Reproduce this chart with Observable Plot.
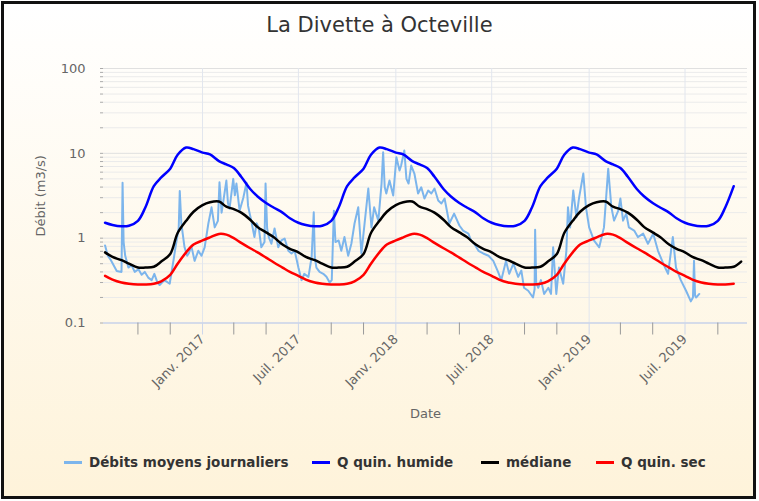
<!DOCTYPE html>
<html><head><meta charset="utf-8">
<script src="https://cdn.jsdelivr.net/npm/d3@7"></script>
<script src="https://cdn.jsdelivr.net/npm/@observablehq/plot@0.6"></script>
<style>
html,body{margin:0;padding:0;background:#fff;}
#frame{position:absolute;left:1px;top:1px;width:755px;height:498px;box-sizing:border-box;border:3px solid #111;background:linear-gradient(#ffffff,#fef3da);}
#title{position:absolute;left:0;top:0;width:759px;height:48px;font:21px "DejaVu Sans";line-height:50px;text-align:center;color:#333;}
#chart{position:absolute;left:0;top:48px;}
#legend{position:absolute;left:0;top:448px;width:759px;height:28px;}
.item{position:absolute;top:0;height:28px;display:flex;align-items:center;font:bold 13.5px "DejaVu Sans";color:#333;white-space:nowrap;}
.sw{width:18px;height:3px;margin-right:7px;}
</style></head>
<body>
<div id="frame"></div>
<div id="title">La Divette à Octeville</div>
<div id="chart"></div>
<div id="legend"></div>
<script>
// ---- Data ----
const seriesNames = ["Débits moyens journaliers", "Q quin. humide", "médiane", "Q quin. sec"];
const seriesColors = ["#7cb5ec", "#0000ff", "#000000", "#ff0000"];

// Daily mean flows (m3/s)
const dailyDates = ["2016-07-01","2016-07-06","2016-07-12","2016-07-23","2016-08-01","2016-08-03","2016-08-05","2016-08-08","2016-08-14","2016-08-20","2016-08-26","2016-09-02","2016-09-08","2016-09-14","2016-09-21","2016-09-27","2016-10-02","2016-10-07","2016-10-12","2016-10-21","2016-10-31","2016-11-07","2016-11-13","2016-11-17","2016-11-19","2016-11-22","2016-11-28","2016-12-03","2016-12-06","2016-12-11","2016-12-17","2016-12-24","2016-12-30",
"2017-01-05","2017-01-12","2017-01-18","2017-01-24","2017-01-30","2017-02-02","2017-02-06","2017-02-10","2017-02-15","2017-02-18","2017-02-21","2017-02-28","2017-03-03","2017-03-06","2017-03-12","2017-03-19","2017-03-25","2017-03-28","2017-03-31","2017-04-03","2017-04-09","2017-04-13","2017-04-17","2017-04-22","2017-04-28","2017-04-30","2017-05-03","2017-05-06","2017-05-11","2017-05-17","2017-05-24","2017-05-30","2017-06-05","2017-06-12","2017-06-18","2017-06-24","2017-07-01","2017-07-07","2017-07-12","2017-07-20","2017-07-26","2017-07-30","2017-08-01","2017-08-04","2017-08-10","2017-08-17","2017-08-23","2017-08-29","2017-09-02","2017-09-06","2017-09-09","2017-09-15","2017-09-20","2017-09-26","2017-10-03","2017-10-09","2017-10-15","2017-10-22","2017-10-28","2017-11-03","2017-11-10","2017-11-16","2017-11-21","2017-11-29","2017-12-05","2017-12-08","2017-12-11","2017-12-14","2017-12-20","2017-12-27",
"2018-01-02","2018-01-08","2018-01-11","2018-01-17","2018-01-21","2018-01-25","2018-01-30","2018-02-05","2018-02-12","2018-02-18","2018-02-24","2018-03-03","2018-03-09","2018-03-15","2018-03-22","2018-03-28","2018-04-03","2018-04-12","2018-04-21","2018-05-01","2018-05-08","2018-05-18","2018-05-23","2018-05-29","2018-06-06","2018-06-15","2018-06-25","2018-07-04","2018-07-13","2018-07-19","2018-07-28","2018-08-03","2018-08-11","2018-08-20","2018-08-26","2018-08-31","2018-09-08","2018-09-17","2018-09-20","2018-09-21","2018-09-23","2018-09-27","2018-10-02","2018-10-08","2018-10-16","2018-10-21","2018-10-25","2018-10-31","2018-11-05","2018-11-13","2018-11-19","2018-11-22","2018-11-26","2018-12-02","2018-12-08","2018-12-13","2018-12-21","2018-12-26",
"2019-01-01","2019-01-10","2019-01-20","2019-01-29","2019-02-06","2019-02-12","2019-02-17","2019-02-25","2019-03-01","2019-03-06","2019-03-12","2019-03-17","2019-03-27","2019-04-03","2019-04-13","2019-04-22","2019-05-02","2019-05-11","2019-05-21","2019-05-30","2019-06-08","2019-06-14","2019-06-23","2019-07-03","2019-07-12","2019-07-16","2019-07-18","2019-07-20","2019-07-22","2019-07-28"];
const dailyValues = [0.82,0.62,0.55,0.41,0.40,4.5,0.9,0.62,0.45,0.48,0.40,0.43,0.37,0.40,0.34,0.32,0.38,0.31,0.28,0.32,0.29,0.54,0.94,1.3,3.6,1.49,0.78,0.62,0.66,0.80,0.54,0.71,0.62,
0.78,1.49,2.31,1.34,1.6,4.56,2.0,2.93,4.78,2.6,2.23,5.0,3.2,4.4,2.11,3.0,4.5,2.4,1.95,1.61,1.03,1.5,1.34,0.78,0.9,4.4,1.3,1.03,0.86,1.30,0.78,0.94,0.99,0.71,0.66,0.71,0.45,0.32,0.38,0.35,0.6,2.02,0.6,0.45,0.40,0.38,0.35,0.30,0.32,2.11,0.9,0.94,0.71,1.03,0.62,0.86,1.49,2.31,0.66,1.49,3.85,1.34,2.31,1.61,4.4,10.3,4.0,3.36,4.78,3.18,
9.0,6.27,7.18,10.8,5.0,4.4,7.18,5.78,3.36,3.98,2.93,3.64,3.36,3.85,2.78,2.56,2.93,1.49,1.95,1.41,1.23,1.13,0.94,0.86,0.71,0.66,0.62,0.54,0.40,0.32,0.54,0.38,0.50,0.35,0.415,0.26,0.24,0.20,0.25,1.26,0.30,0.26,0.32,0.22,0.26,0.22,0.78,0.22,0.45,0.29,0.71,2.31,1.34,3.64,1.76,3.0,5.78,2.31,
1.34,0.94,0.78,1.34,6.56,2.31,1.61,2.11,2.93,1.61,1.95,1.34,1.23,1.03,1.13,0.86,1.13,0.71,0.50,0.38,1.03,0.45,0.32,0.24,0.18,0.20,0.54,0.21,0.20,0.22];

// Inter-annual statistics by day of year (month-day), repeated each year
const statDays = ["01-01","01-15","02-01","02-15","03-01","03-15","04-01","04-15","05-01","05-15","06-01","06-15","07-01","07-15","08-01","08-15","09-01","09-15","10-01","10-15","11-01","11-15","12-01","12-15"];
const humide  = [10.2,9.7,8.1,7.4,6.7,5.3,3.8,3.1,2.6,2.3,2.0,1.72,1.52,1.43,1.38,1.40,1.6,2.3,4.1,5.2,6.6,9.6,11.7,11.2];
const mediane = [2.45,2.65,2.7,2.35,2.2,2.0,1.65,1.35,1.17,1.03,0.84,0.75,0.68,0.60,0.55,0.50,0.45,0.45,0.46,0.53,0.65,1.15,1.6,2.05];
const sec     = [0.94,1.02,1.12,1.10,1.0,0.88,0.76,0.68,0.59,0.52,0.45,0.40,0.36,0.325,0.30,0.29,0.284,0.284,0.29,0.31,0.37,0.5,0.68,0.84];
const statYears = [2016, 2017, 2018, 2019];
const statStart = "2016-07-01", statEnd = "2019-10-01", medianEnd = "2019-10-15";

// Axis
const xDomain = ["2016-06-28", "2019-10-27"];
const majorTickDates = ["2017-01-01","2017-07-01","2018-01-01","2018-07-01","2019-01-01","2019-07-01"];
const majorTickLabels = ["Janv. 2017","Juil. 2017","Janv. 2018","Juil. 2018","Janv. 2019","Juil. 2019"];
const minorTickDates = ["2016-09-01","2016-11-01","2017-03-01","2017-05-01","2017-09-01","2017-11-01","2018-03-01","2018-05-01","2018-09-01","2018-11-01","2019-03-01","2019-05-01","2019-09-01"];
const yTicks = [0.1, 1, 10, 100];
const yTickLabels = ["0.1", "1", "10", "100"];
const yMinorMultipliers = [2,3,4,5,6,7,8,9];

// ---- Build tables ----
const daily = dailyDates.map((d, i) => ({date: new Date(d), value: dailyValues[i]}));
function statRows(vals, end) {
  const s = new Date(statStart), e = new Date(end), rows = [];
  for (const y of statYears) statDays.forEach((md, i) => {
    const d = new Date(`${y}-${md}`);
    if (d >= s && d <= e) rows.push({date: d, value: vals[i]});
  });
  return rows;
}
const humideRows = statRows(humide, statEnd);
const medianeRows = statRows(mediane, medianEnd);
const secRows = statRows(sec, statEnd);

const majorDates = majorTickDates.map(d => new Date(d));
const majorLabel = new Map(majorDates.map((d, i) => [+d, majorTickLabels[i]]));
const minorDates = minorTickDates.map(d => new Date(d));
const yMinor = [];
for (const t of yTicks.slice(0, -1)) for (const m of yMinorMultipliers) yMinor.push(+(t * m).toPrecision(3));
const yLabel = new Map(yTicks.map((t, i) => [t, yTickLabels[i]]));

const chart = Plot.plot({
  width: 759, height: 400,
  marginLeft: 103, marginRight: 12, marginTop: 20, marginBottom: 125.5,
  style: {background: "transparent", fontFamily: "DejaVu Sans", fontSize: "13px", color: "#666", overflow: "visible"},
  x: {type: "utc", domain: xDomain.map(d => new Date(d))},
  y: {type: "log", domain: [0.1, 100]},
  marks: [
    Plot.ruleY(yMinor, {stroke: "#ebebeb", strokeWidth: 1}),
    Plot.ruleY(yTicks, {stroke: "#e0e0e0", strokeWidth: 1}),
    Plot.ruleX(majorDates, {stroke: "#e2e6ee", strokeWidth: 1}),
    Plot.ruleY([0.1], {stroke: "#ccd6eb", strokeWidth: 1.5}),
    Plot.axisY({ticks: yMinor.concat(yTicks), tickSize: 3, tickFormat: () => "", label: null, stroke: "#aaa"}),
    Plot.axisY({ticks: yTicks, tickSize: 0, tickPadding: 18, tickFormat: d => yLabel.get(d), fill: "#666",
      label: "Débit (m3/s)", labelAnchor: "center", labelArrow: false, labelOffset: 68}),
    Plot.axisX({ticks: minorDates, tickSize: 12, tickFormat: () => "", label: null, stroke: "#999"}),
    Plot.axisX({ticks: majorDates, tickSize: 12, tickPadding: 2, tickRotate: -45, tickFormat: d => majorLabel.get(+d),
      stroke: "#ccd6eb", fill: "#666", label: "Date", labelAnchor: "center", labelArrow: false, labelOffset: 95}),
    Plot.line(daily, {x: "date", y: "value", stroke: seriesColors[0], strokeWidth: 2}),
    Plot.line(humideRows, {x: "date", y: "value", stroke: seriesColors[1], strokeWidth: 2.5, curve: "catmull-rom"}),
    Plot.line(medianeRows, {x: "date", y: "value", stroke: seriesColors[2], strokeWidth: 2.5, curve: "catmull-rom"}),
    Plot.line(secRows, {x: "date", y: "value", stroke: seriesColors[3], strokeWidth: 2.5, curve: "catmull-rom"})
  ]
});
document.getElementById("chart").appendChild(chart);

// Legend
const legendLeft = [64, 312, 481, 596];
const legend = document.getElementById("legend");
seriesNames.forEach((name, i) => {
  const it = document.createElement("div");
  it.className = "item";
  it.style.left = legendLeft[i] + "px";
  const sw = document.createElement("span");
  sw.className = "sw";
  sw.style.background = seriesColors[i];
  const tx = document.createElement("span");
  tx.textContent = name;
  it.appendChild(sw); it.appendChild(tx);
  legend.appendChild(it);
});
</script>
</body></html>
